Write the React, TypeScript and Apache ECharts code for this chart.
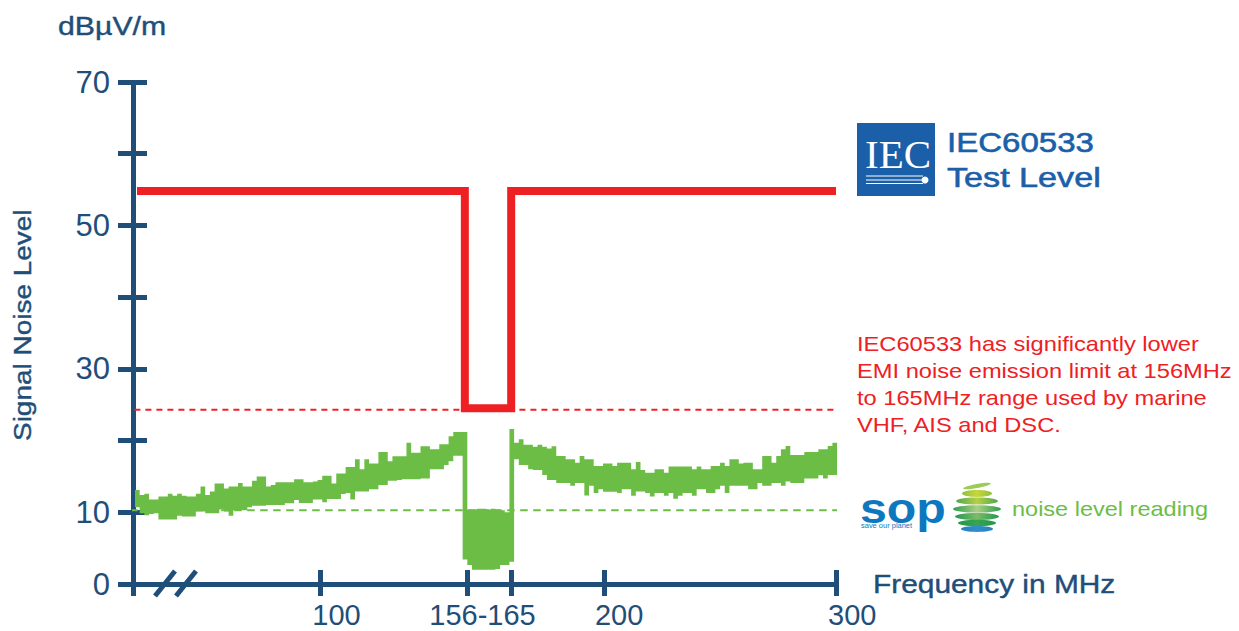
import React, { useEffect, useRef } from "react";
import * as echarts from "echarts";

const AXIS_BLUE = "#1f4e79";
const LOGO_BLUE = "#1a5fa8";
const RED = "#ee2024";
const GREEN = "#6cbd45";
const FONT = "'Liberation Sans', Arial, sans-serif";

// Readings, one per slot of the (broken, non-uniform) frequency axis, dBuV/m
const noiseLow = [
  10.7, 9.85, 9.6, 9.75, 9.85, 9.0, 9.0, 9.0, 9.0, 9.5, 9.4, 9.4, 9.4, 10.1, 10.1, 9.85, 9.85, 9.85, 10.4, 10.1,
  9.5, 10.3, 10.3, 10.3, 10.7, 10.9, 10.9, 10.9, 11.0, 11.0, 11.0, 11.0, 11.25, 11.25, 11.7, 11.3, 11.3, 11.3, 11.8, 11.8,
  11.4, 11.85, 11.85, 11.85, 12.55, 12.7, 11.8, 12.9, 12.9, 12.9, 13.2, 13.2, 13.8, 13.8, 14.4, 14.4, 14.5, 14.6, 14.6, 14.6,
  14.6, 14.7, 14.7, 16.0, 16.0, 16.0, 16.6, 17.1, 17.9, 17.9, 3.4, 2.65, 2.0, 2.0, 2.0, 2.0, 2.0, 2.1, 2.65, 2.65,
  3.1, 17.4, 16.6, 16.6, 16.0, 15.9, 15.9, 15.2, 14.5, 14.5, 14.1, 14.1, 14.1, 13.7, 14.1, 14.1, 12.35, 13.7, 12.7, 13.2,
  12.85, 12.85, 12.85, 12.7, 13.2, 13.2, 12.3, 12.9, 12.9, 12.7, 12.2, 12.7, 12.7, 12.3, 12.7, 11.9, 12.3, 12.7, 12.7, 12.3,
  13.2, 13.2, 12.7, 12.7, 13.2, 13.7, 12.7, 13.7, 13.7, 13.7, 13.7, 13.2, 13.2, 14.1, 13.7, 13.7, 14.1, 14.1, 13.7, 14.3,
  14.1, 14.1, 14.1, 14.7, 14.7, 14.7, 15.15, 14.7, 15.2, 15.2,
];
const noiseHigh = [
  13.1, 12.4, 12.6, 11.8, 11.8, 12.2, 12.2, 12.6, 12.3, 12.6, 12.3, 12.2, 12.2, 12.6, 13.6, 12.4, 12.9, 14.0, 14.0, 13.3,
  13.6, 13.6, 14.1, 13.6, 13.6, 14.4, 15.0, 15.0, 13.6, 13.8, 14.2, 14.2, 14.2, 14.2, 14.6, 14.6, 14.2, 14.2, 14.3, 14.5,
  15.1, 15.1, 14.0, 15.4, 15.4, 16.3, 16.3, 17.4, 16.0, 17.4, 16.8, 16.8, 18.4, 18.4, 17.1, 17.8, 17.8, 17.8, 19.7, 18.3,
  18.3, 19.2, 19.2, 18.8, 18.8, 19.5, 19.5, 20.6, 21.2, 21.2, 21.2, 10.4, 10.4, 10.5, 10.5, 10.4, 10.5, 10.4, 10.3, 10.0,
  21.6, 19.7, 20.2, 19.4, 19.4, 19.15, 19.4, 19.15, 18.9, 19.2, 17.85, 17.85, 17.4, 17.4, 16.9, 17.85, 17.4, 17.4, 16.45, 16.45,
  16.8, 16.8, 16.45, 16.9, 16.9, 16.9, 16.0, 17.0, 15.9, 15.5, 15.5, 16.0, 16.0, 15.5, 16.4, 16.4, 16.4, 16.4, 16.4, 16.0,
  16.4, 16.0, 16.0, 16.45, 16.45, 16.9, 16.45, 17.4, 17.4, 16.8, 16.9, 16.9, 16.0, 16.0, 17.85, 17.85, 16.9, 17.85, 18.8, 19.25,
  18.0, 18.0, 18.0, 18.4, 18.4, 18.4, 18.8, 18.8, 19.25, 19.7,
];

// Test level limit, as [axis slot, dBuV/m]
const limitSlots = [0.85, 70.9, 70.9, 80.8, 80.8, 150.2];
const limitValues = [54.8, 54.8, 24.5, 24.5, 54.8, 54.8];
const limitFloor = 24.3;
const noiseFloor = 10.3;

// Axis marks
const xTickSlots = [0, 40, 71.4, 80.8, 100.6, 150.2];
const xLabelSlots = [38.3, 63.3, 98.7, 148.5];
const xLabels = ["100", "156-165", "200", "300"];
const yTickLabels = [0, 10, 30, 50, 70];
const SLOT_MAX = 150.2;
const SLOT_START = 0.43;

const noteLines = [
  "IEC60533 has significantly lower",
  "EMI noise emission limit at 156MHz",
  "to 165MHz range used by marine",
  "VHF, AIS and DSC.",
];

function label(text: string, x: number, y: number, size: number, fill: string, scaleX: number, extra: any = {}) {
  const { weight, rotation, stroke, family } = extra;
  return {
    type: "text", x, y, scaleX, rotation: rotation || 0, silent: true,
    style: {
      text, fill, fontSize: size, fontFamily: family || FONT, fontWeight: weight || "normal",
      textAlign: "left", textVerticalAlign: "middle",
      ...(stroke ? { stroke: fill, lineWidth: stroke } : {}),
    },
  };
}

function band(cy: number, rx: number, ry: number, edge: string, mid: string) {
  return {
    type: "ellipse", shape: { cx: 977, cy, rx, ry }, silent: true,
    style: {
      fill: new echarts.graphic.LinearGradient(0, 0, 1, 0, [
        { offset: 0, color: edge }, { offset: 0.5, color: mid }, { offset: 1, color: edge },
      ]),
    },
  };
}

// The whole noise band is one stepped outline, built once from the two reading lists.
function noiseBand(params: any, api: any) {
  if (params.dataIndex !== 0) return null;
  const pts: number[][] = [];
  noiseHigh.forEach((v, i) => {
    pts.push(api.coord([SLOT_START + i, v]), api.coord([SLOT_START + i + 1, v]));
  });
  for (let i = noiseLow.length - 1; i >= 0; i--) {
    pts.push(api.coord([SLOT_START + i + 1, noiseLow[i]]), api.coord([SLOT_START + i, noiseLow[i]]));
  }
  return { type: "polygon", shape: { points: pts }, style: { fill: GREEN } };
}

function buildOption(): any {
  const axisStroke = { color: AXIS_BLUE, width: 5, cap: "butt" };
  const lineStroke = { stroke: AXIS_BLUE, lineWidth: 5 };
  const white = { stroke: "#fff", lineWidth: 1 };

  const graphic: any[] = [
    label("dB\u00B5V/m", 58, 26, 25, AXIS_BLUE, 1.21, { stroke: 0.4 }),
    label("Signal Noise Level", 23, 441, 24, AXIS_BLUE, 1.165, { rotation: Math.PI / 2, stroke: 0.4 }),
    label("Frequency in MHz", 873, 584, 25, AXIS_BLUE, 1.195, { stroke: 0.4 }),
    { type: "line", shape: { x1: 155, y1: 596, x2: 175, y2: 571 }, style: lineStroke, silent: true },
    { type: "line", shape: { x1: 176, y1: 596, x2: 196, y2: 571 }, style: lineStroke, silent: true },
    // IEC badge
    { type: "rect", shape: { x: 857, y: 123, width: 78, height: 73 }, style: { fill: LOGO_BLUE }, silent: true },
    label("IEC", 865, 154, 41, "#ffffff", 1, { family: "'Liberation Serif', serif" }),
    { type: "line", shape: { x1: 866, y1: 176, x2: 923, y2: 176 }, style: white, silent: true },
    { type: "line", shape: { x1: 866, y1: 180, x2: 923, y2: 180 }, style: white, silent: true },
    { type: "line", shape: { x1: 866, y1: 183.5, x2: 923, y2: 183.5 }, style: white, silent: true },
    { type: "circle", shape: { cx: 925, cy: 180, r: 3.5 }, style: { fill: "#fff" }, silent: true },
    label("IEC60533", 947, 142, 28, LOGO_BLUE, 1.18, { stroke: 0.6 }),
    label("Test Level", 947, 178, 28, LOGO_BLUE, 1.22, { stroke: 0.6 }),
    // Note
    ...noteLines.map((t, i) => label(t, 857, 344 + i * 27, 20.5, RED, 1.155)),
    // SOP mark
    label("sop", 860, 509, 42, "#0d78be", 1.15, { weight: "bold" }),
    label("save our planet", 861, 526, 6.5, "#0d78be", 1.15),
    {
      type: "ellipse", shape: { cx: 0, cy: 0, rx: 14, ry: 2 }, x: 977, y: 486, rotation: 0.18, silent: true,
      style: { fill: "#9ccb5c" },
    },
    band(493.5, 15, 3.4, "#8fbf3f", "#c6d83a"),
    band(501, 21, 3.6, "#4ea84a", "#b4d048"),
    band(509, 24, 3.7, "#2f9e4c", "#a9cf86"),
    band(516.5, 22, 3.5, "#23994b", "#7dbb6d"),
    band(523, 19, 3.2, "#1c9a4a", "#37a54c"),
    band(529, 16, 2.9, "#2a7fc0", "#2f8ec9"),
    label("noise level reading", 1012, 509, 21, GREEN, 1.12),
  ];

  return {
    animation: false,
    backgroundColor: "#ffffff",
    textStyle: { fontFamily: FONT },
    grid: { left: 133, right: 1239 - 836, top: 82, bottom: 631 - 584, containLabel: false, outerBoundsMode: "none" },
    graphic,
    xAxis: [
      {
        type: "value", min: 0, max: SLOT_MAX, position: "bottom", splitLine: { show: false },
        axisLine: { show: true, onZero: false, lineStyle: axisStroke },
        axisTick: { show: true, length: 12, lineStyle: axisStroke, customValues: xTickSlots },
        axisLabel: {
          show: true, color: AXIS_BLUE, fontSize: 29, fontFamily: FONT, margin: 16, align: "left",
          customValues: xLabelSlots,
          formatter: (v: number) => xLabels[xLabelSlots.indexOf(v)] ?? "",
        },
      },
      {
        type: "value", min: 0, max: SLOT_MAX, position: "bottom", splitLine: { show: false },
        axisLine: { show: false, onZero: false },
        axisTick: { show: true, inside: true, length: 14, lineStyle: axisStroke, customValues: xTickSlots },
        axisLabel: { show: false },
      },
    ],
    yAxis: [
      {
        type: "value", min: 0, max: 70, interval: 10, position: "left", splitLine: { show: false },
        axisLine: { show: true, onZero: false, lineStyle: axisStroke },
        axisTick: { show: true, length: 15, lineStyle: axisStroke },
        axisLabel: {
          show: true, color: AXIS_BLUE, fontSize: 31, fontFamily: FONT, margin: 23,
          customValues: yTickLabels,
        },
      },
      {
        type: "value", min: 0, max: 70, interval: 10, position: "left", splitLine: { show: false },
        axisLine: { show: false, onZero: false },
        axisTick: { show: true, inside: true, length: 14, lineStyle: axisStroke },
        axisLabel: { show: false },
      },
    ],
    series: [
      {
        name: "Noise floor", type: "line", symbol: "none", clip: false, z: 3, silent: true,
        data: [[-0.6, noiseFloor], [151.5, noiseFloor]],
        lineStyle: { color: GREEN, width: 2, type: [7.5, 5.5] },
      },
      {
        name: "Noise level", type: "custom", clip: false, z: 4, silent: true,
        renderItem: noiseBand,
        encode: { x: 0, y: [1, 2] },
        data: noiseLow.map((v, i) => [SLOT_START + i, v, noiseHigh[i]]),
      },
      {
        name: "Limit floor", type: "line", symbol: "none", z: 5, silent: true,
        data: [[0.3, limitFloor], [SLOT_MAX, limitFloor]],
        lineStyle: { color: RED, width: 2, type: [6, 5] },
      },
      {
        name: "Test level", type: "line", symbol: "none", z: 6, silent: true,
        data: limitSlots.map((s, i) => [s, limitValues[i]]),
        lineStyle: { color: RED, width: 8, join: "miter", cap: "butt" },
      },
    ],
  };
}

export default function App() {
  const ref = useRef<HTMLDivElement>(null);
  useEffect(() => {
    if (!ref.current) return;
    const chart = echarts.init(ref.current, undefined, { renderer: "svg" });
    chart.setOption(buildOption());
    return () => chart.dispose();
  }, []);
  return <div ref={ref} style={{ position: "absolute", left: 0, top: 0, width: 1239, height: 631 }} />;
}
